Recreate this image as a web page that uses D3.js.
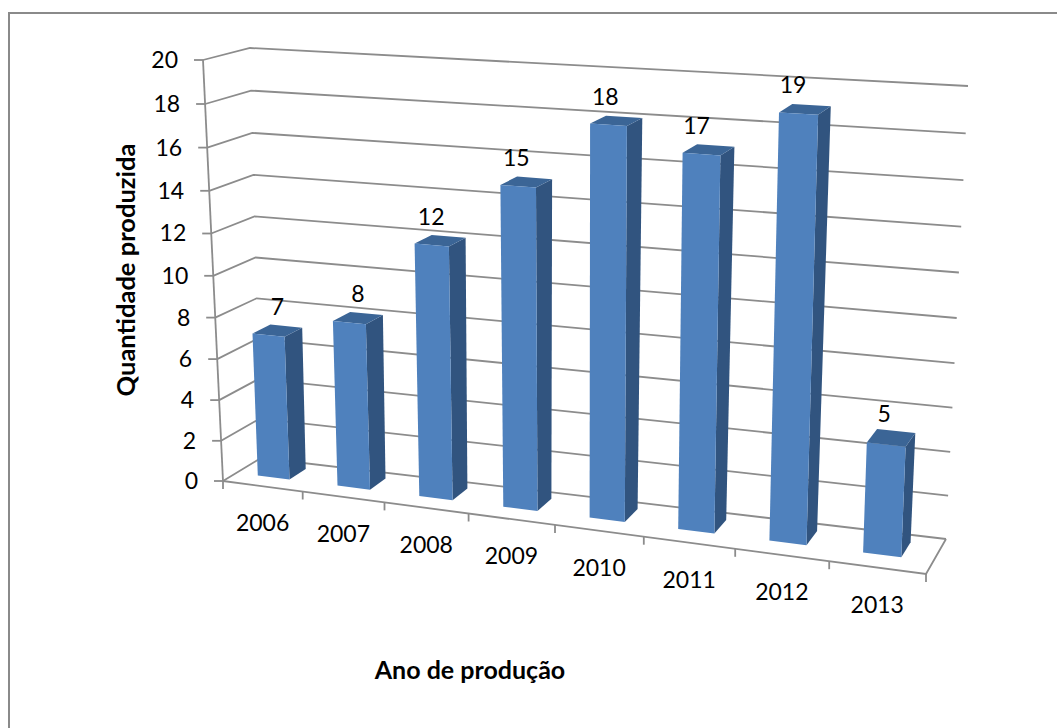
<!DOCTYPE html>
<html><head><meta charset="utf-8">
<style>html,body{margin:0;padding:0;background:#fff;overflow:hidden}svg{display:block}text{font-family:Lato,"Open Sans",sans-serif;fill:#000}</style>
<script src="https://cdn.jsdelivr.net/npm/d3@7/dist/d3.min.js"></script>
</head><body><svg id="c" width="1057" height="728"></svg>
<script>
const categories = ["2006","2007","2008","2009","2010","2011","2012","2013"];
const values = [7,8,12,15,18,17,19,5];
const yTicks = [0,2,4,6,8,10,12,14,16,18,20];
const yTitle = "Quantidade produzida";
const xTitle = "Ano de produção";

const svg = d3.select("#c");
const xs = d3.scaleBand().domain(categories).range([0,1]);
const ys = d3.scaleLinear().domain([0,20]).range([0,1]);

function homography(p00,p10,p11,p01){
  const [x0,y0]=p00,[x1,y1]=p10,[x2,y2]=p11,[x3,y3]=p01;
  const dx1=x1-x2,dx2=x3-x2,dx3=x0-x1+x2-x3,dy1=y1-y2,dy2=y3-y2,dy3=y0-y1+y2-y3;
  const den=dx1*dy2-dx2*dy1;
  const g=(dx3*dy2-dx2*dy3)/den,h=(dx1*dy3-dx3*dy1)/den;
  const a=x1-x0+g*x1,b=x3-x0+h*x3,c=x0,d=y1-y0+g*y1,e=y3-y0+h*y3,f=y0;
  return (u,v)=>{const w=g*u+h*v+1;return [(a*u+b*v+c)/w,(d*u+e*v+f)/w];};
}
const front = homography([223,481],[926,574],[944,106],[203,60]);
const back  = homography([261,458],[946,539],[968,86],[250,48]);
function project(u,t,v){
  const f=front(u,t),b=back(u,t);
  return [f[0]+(b[0]-f[0])*v,f[1]+(b[1]-f[1])*v];
}
const pathOf = pts => "M"+pts.map(p=>p[0].toFixed(1)+","+p[1].toFixed(1)).join("L")+"Z";
const lineOf = pts => "M"+pts.map(p=>p[0].toFixed(1)+","+p[1].toFixed(1)).join("L");

svg.append("path").attr("d","M9,728V13H1057").attr("fill","none").attr("stroke","#8a8a8a").attr("stroke-width",2);

const g=svg.append("g").attr("fill","none").attr("stroke","#8c8c8c").attr("stroke-width",1.8);
yTicks.forEach(d=>{
  const t=ys(d);
  g.append("path").attr("d",lineOf([project(0,t,0),project(0,t,1),project(1,t,1)]));
  const p=project(0,t,0);
  g.append("path").attr("d",lineOf([p,[p[0]-9,p[1]]]));
});
g.append("path").attr("d",lineOf([project(0,1,0),project(0,0,0)]));
g.append("path").attr("d",lineOf([project(0,0,0),project(1,0,0),project(1,0,1)]));
d3.range(categories.length+1).forEach(i=>{
  const u=i/categories.length,p=project(u,0,0);
  g.append("path").attr("d",lineOf([p,[p[0],p[1]+8]]));
});

const u0=0.27,u1=0.67,v0=0.36,v1=0.80;
const labelNudge=[0,0,-9,-10,-11,-12,-12,-7];
const bars=svg.append("g");
categories.forEach((c,i)=>{
  const L=xs(c)+u0*xs.bandwidth(),R=xs(c)+u1*xs.bandwidth(),T=ys(values[i]);
  bars.append("path").attr("d",pathOf([project(R,0,v0),project(R,0,v1),project(R,T,v1),project(R,T,v0)])).attr("fill","#31547f");
  bars.append("path").attr("d",pathOf([project(L,T,v0),project(R,T,v0),project(R,T,v1),project(L,T,v1)])).attr("fill","#3b6596");
  bars.append("path").attr("d",pathOf([project(L,0,v0),project(R,0,v0),project(R,T,v0),project(L,T,v0)])).attr("fill","#4f81bd");
  const top=project((L+R)/2,T,(v0+v1)/2);
  svg.append("text").attr("x",top[0]+labelNudge[i]).attr("y",top[1]-16).attr("text-anchor","middle").style("font-size","23px").text(values[i]);
});

yTicks.forEach(d=>{
  const p=project(0,ys(d),0);
  svg.append("text").attr("x",p[0]-25).attr("y",p[1]+8).attr("text-anchor","end").style("font-size","23px").text(d);
});
categories.forEach((c,i)=>{
  const p=project(xs(c)+xs.bandwidth()/2,0,0);
  svg.append("text").attr("x",p[0]).attr("y",p[1]+45).attr("text-anchor","middle").style("font-size","23px").text(c);
});
svg.append("text").attr("transform","translate(135,270) rotate(-90)").attr("text-anchor","middle").style("font-size","25.5px").style("font-weight",700).text(yTitle);
svg.append("text").attr("x",470).attr("y",679).attr("text-anchor","middle").style("font-size","25px").style("font-weight",700).text(xTitle);
</script></body></html>
